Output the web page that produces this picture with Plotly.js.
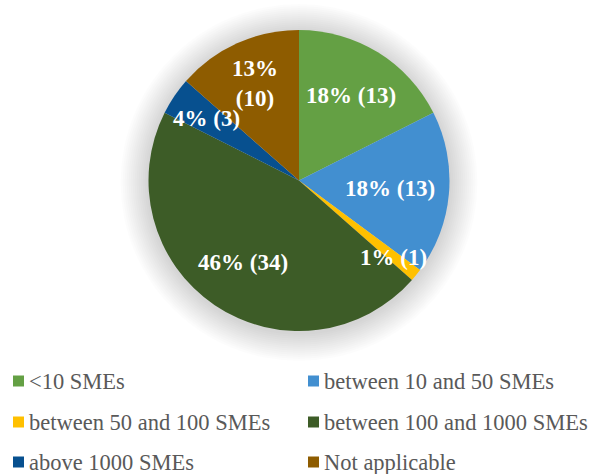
<!DOCTYPE html>
<html>
<head>
<meta charset="utf-8">
<script src="https://cdn.plot.ly/plotly-3.0.1.min.js"></script>
<style>
  html, body { margin: 0; padding: 0; background: #ffffff; }
  #chart { width: 593px; height: 474px; }
</style>
</head>
<body>
<div id="chart"></div>
<script>
// SME size categories and number of responses
const categories = ['<10 SMEs', 'between 10 and 50 SMEs', 'between 50 and 100 SMEs',
                    'between 100 and 1000 SMEs', 'above 1000 SMEs', 'Not applicable'];
const counts = [13, 13, 1, 34, 3, 10];
const percentLabels = [18, 18, 1, 46, 4, 13];
const sliceColors = ['#64a044', '#428fd0', '#ffc000', '#3d5c27', '#07508f', '#8e5c00'];

// slices whose label is split over two lines
const wrappedSlices = ['Not applicable'];
// how far out (fraction of the radius) each slice label sits along its mid-angle
const labelRadiusFrac = [0.66, 0.61, 0.81, 0.66, 0.74, 0.71];

const W = 593, H = 474;
const CX = 299, CY = 180.5, R = 150.5;
const px = x => x / W;
const py = y => 1 - y / H;

const serif = 'Liberation Serif, Times New Roman, serif';
const annotations = [];
const shapes = [];

// soft shadow ring behind the pie: stacked faint discs, slightly offset downward
const HALO_STEPS = 14, HALO_STEP = 2;
for (let k = HALO_STEPS; k >= 1; k--) {
  const r = R + k * HALO_STEP;
  const cy = CY + 2;
  shapes.push({
    type: 'circle', xref: 'paper', yref: 'paper', layer: 'below',
    x0: px(CX - r), x1: px(CX + r), y0: py(cy + r), y1: py(cy - r),
    fillcolor: 'rgba(0,0,0,0.011)', line: { width: 0 }
  });
}

const pie = {
  type: 'pie',
  labels: categories,
  values: counts,
  textinfo: 'none',
  marker: { colors: sliceColors, line: { width: 0 } },
  sort: false,
  direction: 'clockwise',
  rotation: 0,
  hoverinfo: 'label+value',
  showlegend: false,
  domain: { x: [px(CX - R), px(CX + R)], y: [py(CY + R), py(CY - R)] }
};

// slice labels, placed on each slice's mid-angle (clockwise from 12 o'clock)
const total = counts.reduce((a, b) => a + b, 0);
let cum = 0;
categories.forEach((c, i) => {
  const mid = (cum + counts[i] / 2) / total * 2 * Math.PI;
  cum += counts[i];
  const r = R * labelRadiusFrac[i];
  annotations.push({
    xref: 'paper', yref: 'paper',
    x: px(CX + r * Math.sin(mid)), y: py(CY - r * Math.cos(mid)),
    xanchor: 'center', yanchor: 'middle', showarrow: false,
    text: '<b>' + percentLabels[i] + '%' + (wrappedSlices.includes(c) ? '<br>' : ' ') +
          '(' + counts[i] + ')</b>',
    font: { family: serif, size: 23, color: '#ffffff' }
  });
});

// two-column key below the pie
const colX = [13, 308];
const rowY = [381, 422, 462];
categories.forEach((c, i) => {
  const col = i % 2, row = Math.floor(i / 2);
  const x0 = colX[col], yc = rowY[row];
  shapes.push({
    type: 'rect', xref: 'paper', yref: 'paper',
    x0: px(x0), x1: px(x0 + 11), y0: py(yc + 5.5), y1: py(yc - 5.5),
    fillcolor: sliceColors[i], line: { width: 0 }
  });
  annotations.push({
    xref: 'paper', yref: 'paper', x: px(x0 + 14), y: py(yc),
    xanchor: 'left', yanchor: 'middle', showarrow: false,
    text: c.replace('<', '&lt;'),
    font: { family: serif, size: 22.5, color: '#595959' }
  });
});

const layout = {
  width: W, height: H,
  margin: { l: 0, r: 0, t: 0, b: 0, autoexpand: false },
  paper_bgcolor: '#ffffff',
  shapes: shapes,
  annotations: annotations
};

Plotly.newPlot('chart', [pie], layout, { displayModeBar: false, staticPlot: true });
</script>
</body>
</html>
